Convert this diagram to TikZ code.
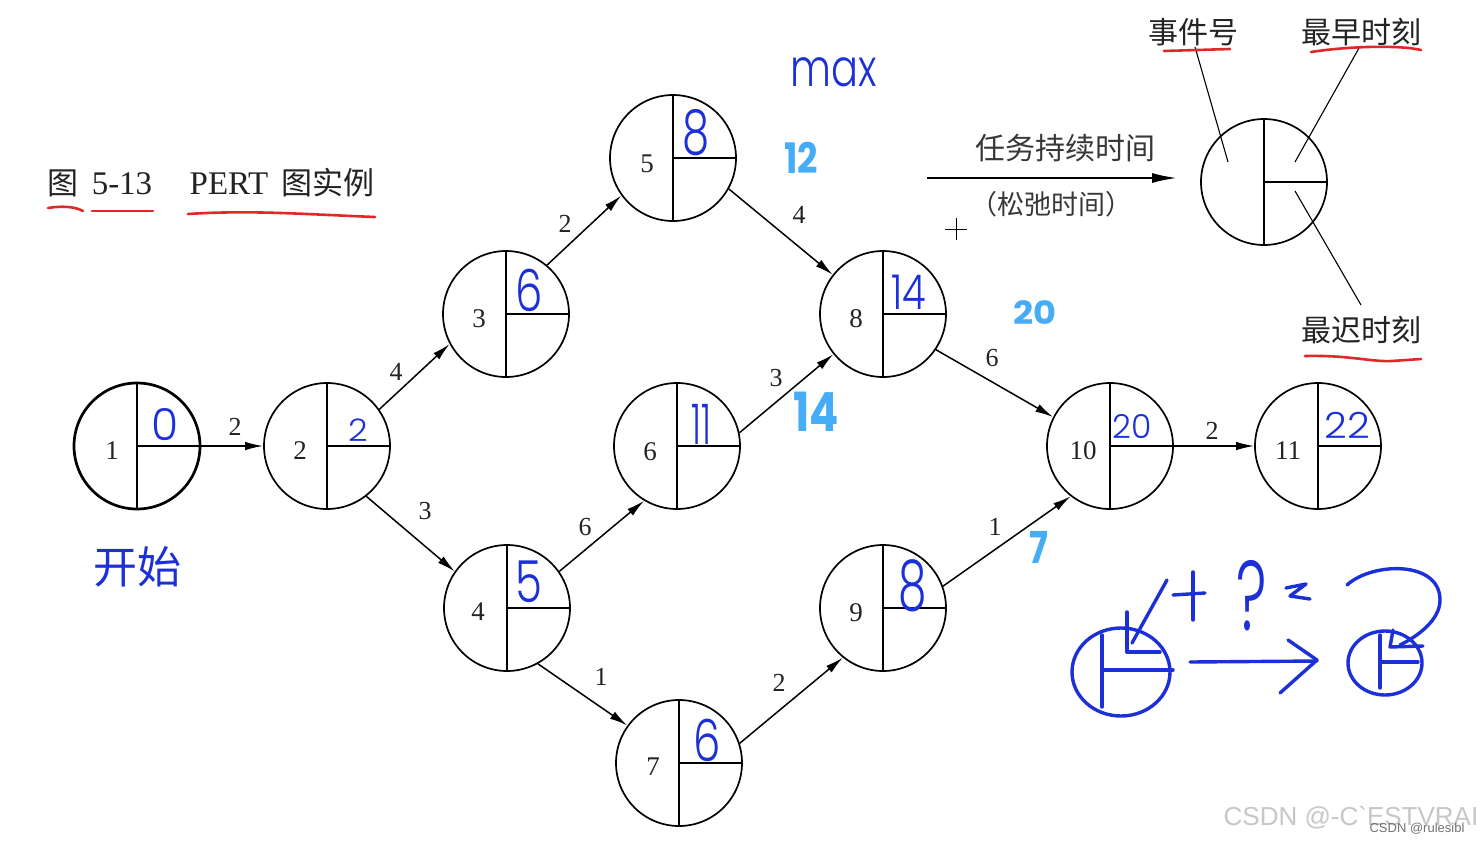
\documentclass[tikz,border=0pt]{standalone}
\usepackage{fontspec}
\setmainfont{Liberation Serif}
\newfontfamily\cjk{Noto Sans CJK SC}
\newfontfamily\wmfont{Liberation Sans}
\newfontfamily\hwfont{Poppins Light}
\newfontfamily\hwbold{Poppins}
\usetikzlibrary{arrows.meta}
\definecolor{ink}{RGB}{35,35,35}
\definecolor{hblue}{RGB}{28,48,215}
\definecolor{lblue}{RGB}{70,172,245}
\definecolor{mred}{RGB}{225,40,40}
\begin{document}
\begin{tikzpicture}[x=1pt,y=-1pt,
  pert/.style={circle,draw=black,line width=1.7pt,minimum size=126pt,inner sep=0pt},
  split/.style={draw=black,line width=1.4pt},
  edge/.style={draw=black,line width=1.5pt,-{Latex[length=18pt,width=8.5pt]}},
  legarrow/.style={draw=black,line width=2pt,-{Latex[length=25pt,width=10pt]}},
  leader/.style={draw=black,line width=1.1pt},
  num/.style={inner sep=0pt,text=ink,font=\fontsize{27}{27}\selectfont},
  elab/.style={inner sep=0pt,text=ink,font=\fontsize{26}{26}\selectfont},
  serif/.style={inner sep=0pt,text=ink,font=\fontsize{#1}{#1}\selectfont},
  cjktxt/.style={inner sep=0pt,text=ink,font=\cjk\fontsize{#1}{#1}\selectfont},
  hand/.style={inner sep=0pt,text=hblue,font=\hwfont\fontsize{#1}{#1}\selectfont},
  lhand/.style={inner sep=0pt,text=lblue,font=\hwbold\bfseries\fontsize{#1}{#1}\selectfont},
  redline/.style={draw=mred,line width=2.6pt,line cap=round,line join=round},
  sketch/.style={draw=hblue,line width=3.4pt,line cap=round,line join=round},
]
\fill[white] (0,0) rectangle (1480,844);
\path[use as bounding box] (0,0) rectangle (1480,844);

% ---- title ----
\node[cjktxt=31] (fig) at (63,183) {图};
\node[serif=33] (fignum) at (122,184) {5-13};
\node[serif=33] (pert) at (229,184) {PERT};
\node[cjktxt=31] (figname) at (328,183) {图实例};
\draw[redline] (48,208) .. controls (60,206) and (74,206) .. (83,211);
\draw[redline] (92,211) -- (153,211);
\draw[redline] (188,214) .. controls (250,210) and (300,214) .. (375,217);

% ---- PERT nodes ----
\node[pert,line width=2.7pt] (n1) at (137,446) {};
\draw[split] (n1.north) -- (n1.south);
\draw[split] (n1.center) -- (n1.east);
\foreach \n/\x/\y in {2/327/446,3/506/314,4/507/608,5/673/158,6/677/446,7/679/763,8/883/314,9/883/608,10/1110/446,11/1318/446}{
  \node[pert] (n\n) at (\x,\y) {};
  \draw[split] (n\n.north) -- (n\n.south);
  \draw[split] (n\n.center) -- (n\n.east);
}
\foreach \n/\x/\y in {1/112/451,2/300/451,3/479/319,4/478/612,5/647/164,6/650/452,7/653/767,8/856/319,9/856/613,10/1083/451,11/1288/451}{
  \node[num] (t\n) at (\x,\y) {\n};
}

% ---- edges ----
\draw[edge] (n1.east) -- (n2.west);
\draw[edge] (n2.35) -- (n3.208);
\draw[edge] (n2.-52) -- (n4.145);
\draw[edge] (n3.50) -- (n5.216);
\draw[edge] (n5.-29) -- (n8.142);
\draw[edge] (n4.35) -- (n6.239);
\draw[edge] (n6.12) -- (n8.219);
\draw[edge] (n4.-61) -- (n7.144);
\draw[edge] (n7.18) -- (n9.231);
\draw[edge] (n8.-34) -- (n10.153);
\draw[edge] (n9.20) -- (n10.232);
\draw[edge] (n10.east) -- (n11.west);

\foreach \k/\x/\y/\v in {a/235/427/2,b/396/372/4,c/425/511/3,d/565/224/2,e/799/215/4,f/585/527/6,g/776/378/3,h/601/677/1,i/779/683/2,j/992/358/6,k/995/527/1,l/1212/431/2}{
  \node[elab] (w\k) at (\x,\y) {\v};
}

% ---- handwritten earliest times ----
\foreach \n/\x/\y/\v/\s/\xs in {1/165/425/0/44/1,2/358/430/2/31/1.1,3/529/290/6/58/0.75,4/529/582/5/58/0.75,5/696/133/8/62/0.7,6/701/424/11/56/0.6,7/707/740/6/58/0.75,8/909/292/14/48/0.8,9/913/586/8/70/0.65,10/1132/426/20/33/1,11/1347/425/22/36/1.1}{
  \node[hand=\s,xscale=\xs] (h\n) at (\x,\y) {\v};
}
\node[hand=40,yscale=1.3] (hmax) at (834,72) {max};
\node[inner sep=0pt,text=hblue,font=\cjk\fontsize{44}{44}\selectfont] (hstart) at (137,567) {开始};
\node[lhand=42,xscale=0.85] (l12) at (801,158) {12};
\node[lhand=32,xscale=1.1] (l20) at (1035,313) {20};
\node[lhand=54,xscale=0.8] (l14) at (816,412) {14};
\node[lhand=44,xscale=0.8] (l7) at (1039,547) {7};

% ---- legend ----
\node[pert] (leg) at (1264,182) {};
\draw[split] (leg.north) -- (leg.south);
\draw[split] (leg.center) -- (leg.east);
\node[cjktxt=30] (evt) at (1193,32) {事件号};
\node[cjktxt=30] (est) at (1361,32) {最早时刻};
\node[cjktxt=30] (lst) at (1361,330) {最迟时刻};
\coordinate (evtA) at (1195,47);  \coordinate (evtB) at (1228,162);
\coordinate (estA) at (1359,48);  \coordinate (estB) at (1295,162);
\coordinate (lstA) at (1361,305); \coordinate (lstB) at (1295,191);
\draw[leader] (evtA) -- (evtB);
\draw[leader] (estA) -- (estB);
\draw[leader] (lstA) -- (lstB);
\draw[redline] (1164,51) -- (1230,49);
\draw[redline] (1311,52) .. controls (1350,46) and (1400,45) .. (1421,50);
\draw[redline] (1305,356) .. controls (1350,355) and (1370,362) .. (1392,361) -- (1421,359);

\coordinate (durA) at (927,178);
\coordinate (durB) at (1177,178);
\draw[legarrow] (durA) -- (durB);
\node[cjktxt=30,text=black!78] (dur) at (1065,148) {任务持续时间};
\node[cjktxt=27,text=black!78] (slack) at (1051,204) {（松弛时间）};
\draw[line width=1pt] (945,229) -- (967,229);
\draw[line width=1pt] (956,218) -- (956,240);

% ---- handwritten sketch bottom right ----
\draw[sketch] (1121,672) ellipse [x radius=49, y radius=44];
\draw[sketch] (1102,635) -- (1102,707);
\draw[sketch] (1103,670) -- (1173,670);
\draw[sketch] (1127,612) -- (1127,652) -- (1160,652);
\draw[sketch] (1167,580) -- (1132,643);
\draw[sketch] (1193,572) -- (1193,620);
\draw[sketch] (1173,595) -- (1205,593);
\node[hand=66,xscale=0.9,yscale=1.5] (hq) at (1252,596) {?};
\draw[sketch] (1286,588) -- (1306,584) -- (1290,596) -- (1310,599);
\draw[sketch] (1190,662) -- (1317,661);
\draw[sketch] (1288,640) -- (1317,660) -- (1280,693);
\draw[sketch] (1385,663) ellipse [x radius=37, y radius=32];
\draw[sketch] (1380,635) -- (1380,688);
\draw[sketch] (1382,662) -- (1418,662);
\draw[sketch] (1393,630) -- (1390,647) -- (1423,646);
\draw[sketch] (1347,585) .. controls (1372,562) and (1440,560) .. (1440,600) .. controls (1440,620) and (1418,636) .. (1400,645);

% ---- watermark ----
\node[inner sep=0pt,text=black!22,font=\wmfont\fontsize{26}{26}\selectfont] (wm1) at (1351,818) {CSDN @-C\textasciigrave ESTVRAI};
\node[inner sep=0pt,text=black!55,font=\wmfont\fontsize{13}{13}\selectfont] (wm2) at (1417,829) {CSDN @rulesibl};
\end{tikzpicture}
\end{document}
